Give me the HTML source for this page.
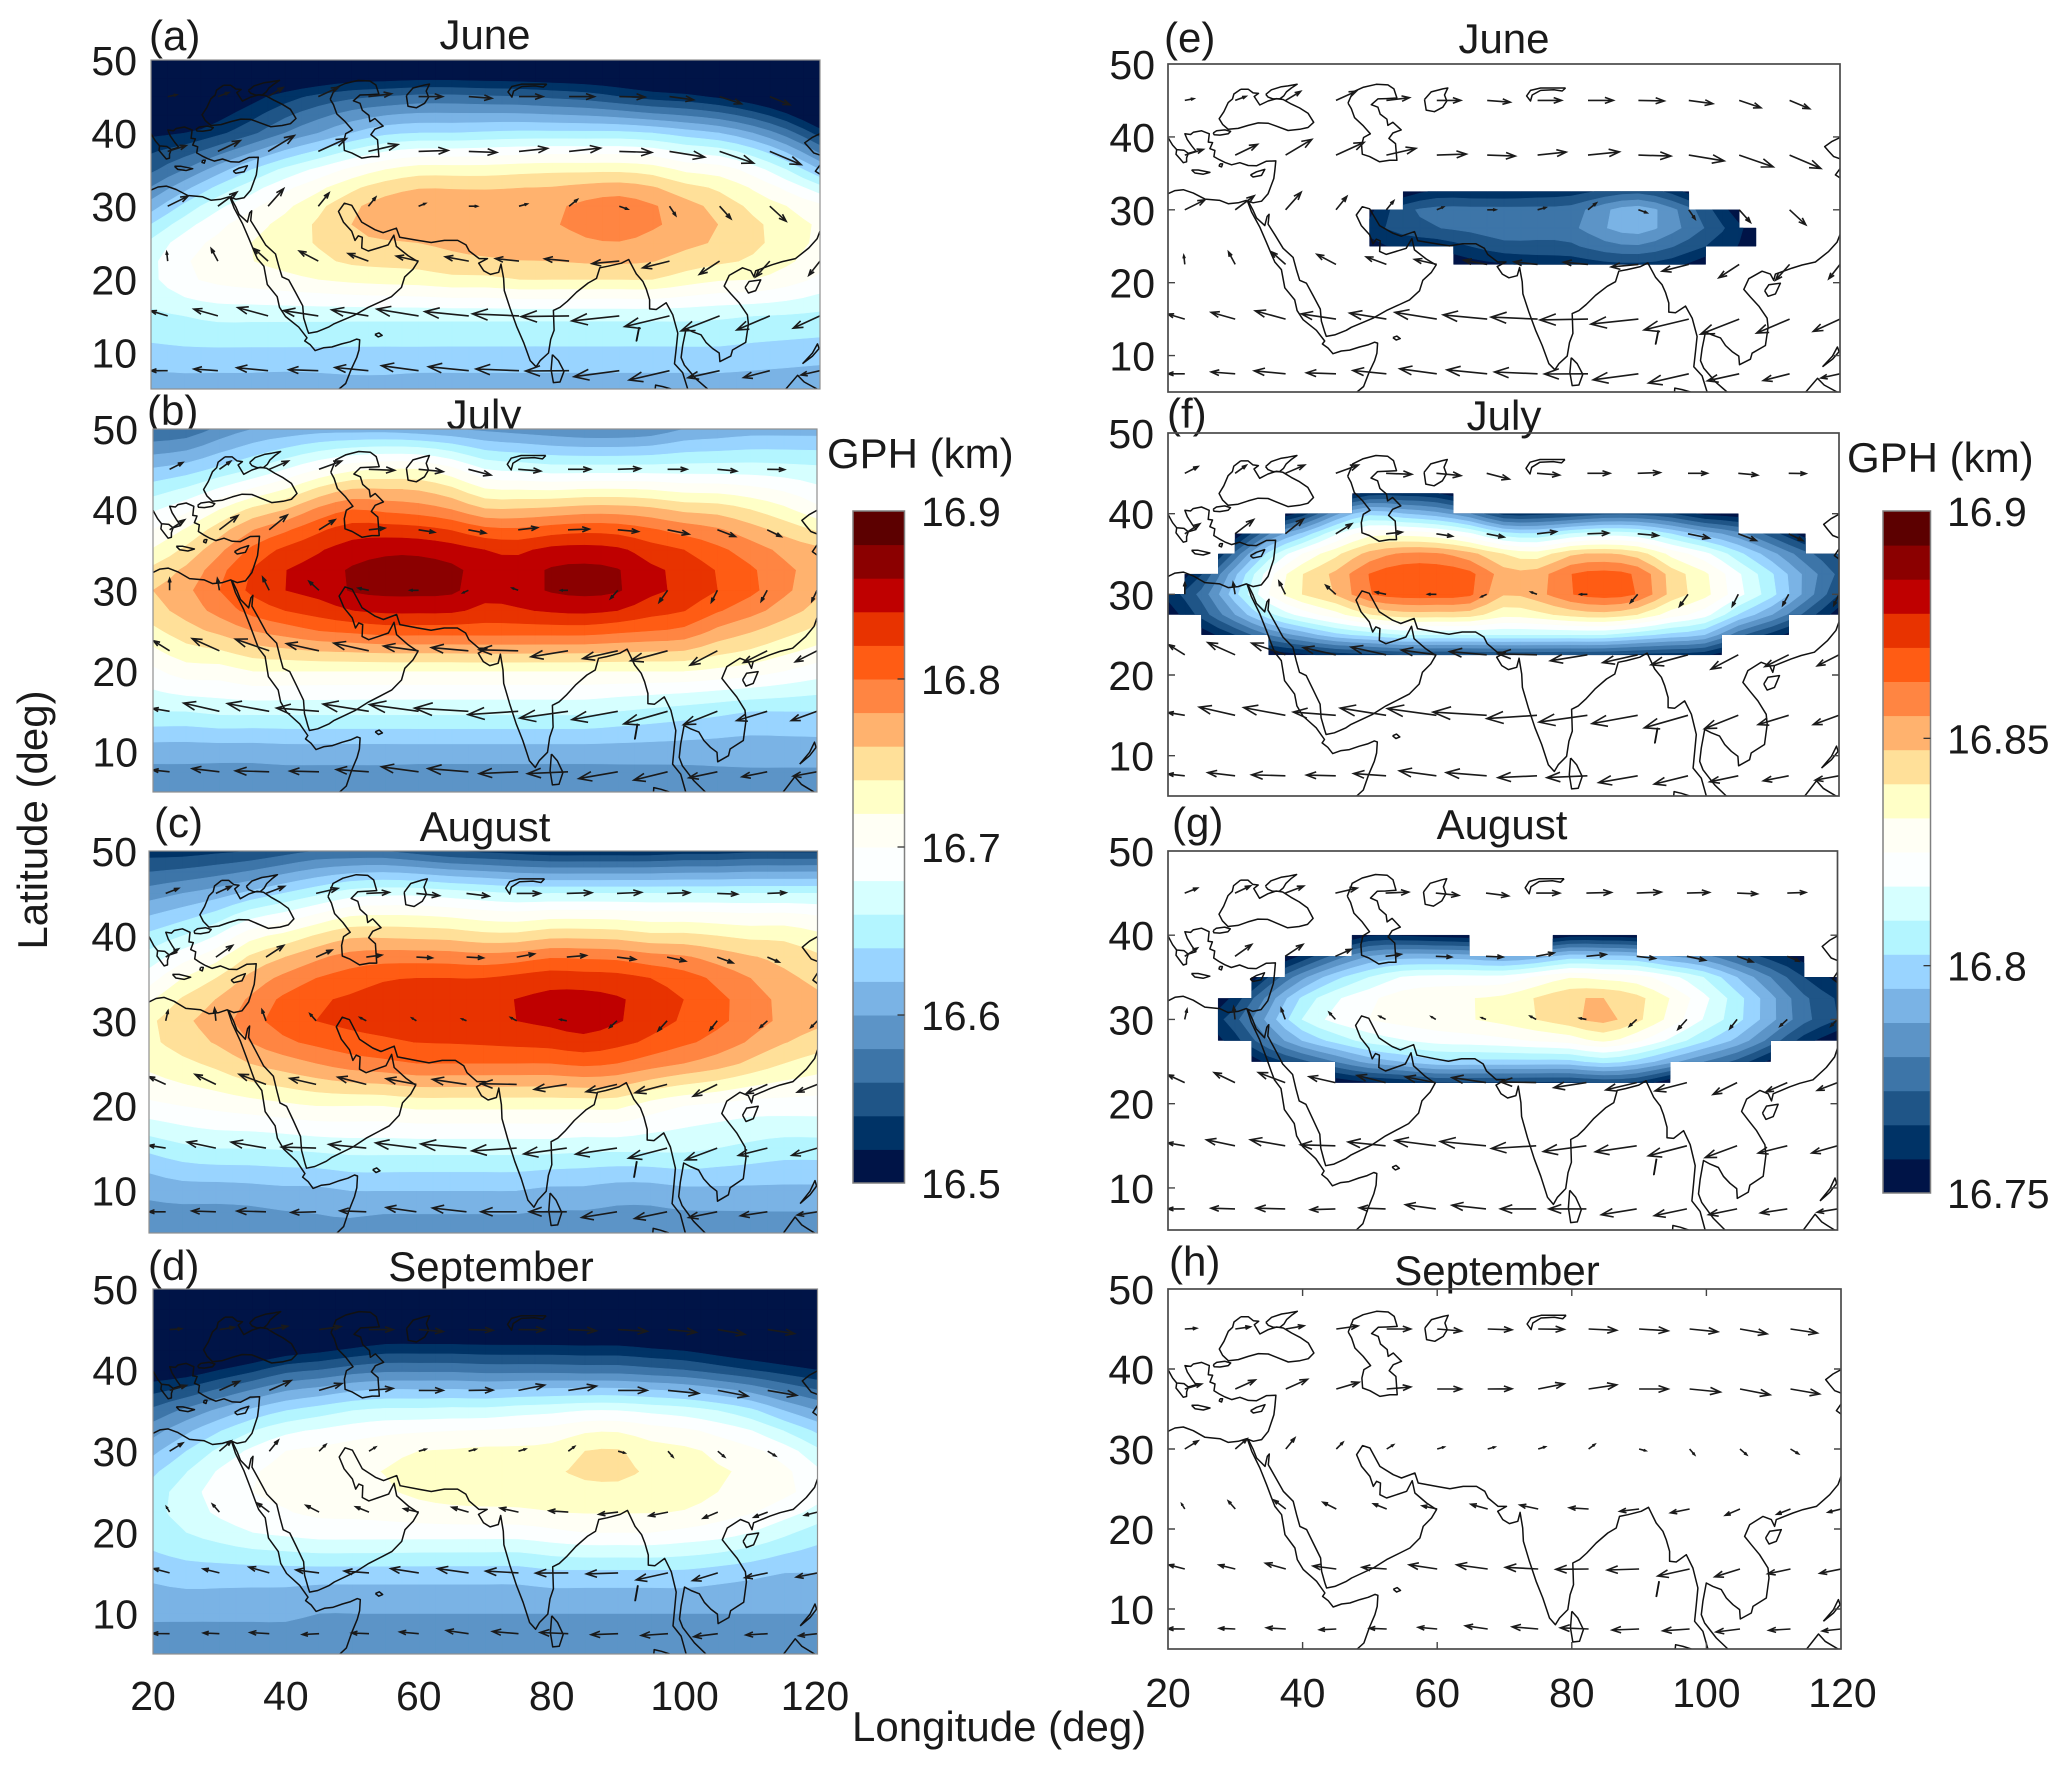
<!DOCTYPE html>
<html>
<head>
<meta charset="utf-8">
<title>GPH and wind panels</title>
<style>
html,body{margin:0;padding:0;background:#fff;}
svg{display:block;}
text{font-family:"Liberation Sans",Arial,sans-serif;fill:#1a1a1a;}
</style>
</head>
<body>
<svg id="fig" xmlns="http://www.w3.org/2000/svg" width="2067" height="1769" viewBox="0 0 2067 1769">
<rect x="0" y="0" width="2067" height="1769" fill="#fff"/>
<text x="149" y="50" font-size="42">(a)</text>
<text x="485" y="49" font-size="42" text-anchor="middle">June</text>
<text x="147" y="425" font-size="42">(b)</text>
<text x="484" y="429" font-size="42" text-anchor="middle">July</text>
<text x="154" y="837" font-size="42">(c)</text>
<text x="485" y="841" font-size="42" text-anchor="middle">August</text>
<text x="148" y="1280" font-size="42">(d)</text>
<text x="491" y="1281" font-size="42" text-anchor="middle">September</text>
<text x="1164" y="52" font-size="42">(e)</text>
<text x="1504" y="53" font-size="42" text-anchor="middle">June</text>
<text x="1167" y="428" font-size="42">(f)</text>
<text x="1504" y="430" font-size="42" text-anchor="middle">July</text>
<text x="1172" y="837" font-size="42">(g)</text>
<text x="1502" y="839" font-size="42" text-anchor="middle">August</text>
<text x="1169" y="1276" font-size="42">(h)</text>
<text x="1497" y="1285" font-size="42" text-anchor="middle">September</text>
<text x="827" y="468" font-size="42">GPH (km)</text>
<text x="1847" y="472" font-size="42">GPH (km)</text>
<text x="852" y="1741" font-size="42">Longitude (deg)</text>
<text x="47" y="820" font-size="42" text-anchor="middle" transform="rotate(-90 47 820)">Latitude (deg)</text>
<g id="root"></g>
</svg>
<script>
const lonGrid=[20,25,30,35,40,45,50,55,60,65,70,75,80,85,90,95,100,105,110,115,120];
const latGrid=[50,45,40,35,30,25,20,15,10,5];
const gphJune=[
[16.38,16.39,16.40,16.42,16.44,16.45,16.46,16.46,16.46,16.46,16.46,16.46,16.46,16.46,16.46,16.455,16.45,16.44,16.43,16.42,16.40],
[16.42,16.44,16.485,16.51,16.53,16.545,16.555,16.56,16.565,16.565,16.562,16.56,16.555,16.55,16.54,16.53,16.525,16.515,16.50,16.48,16.45],
[16.515,16.52,16.535,16.555,16.58,16.60,16.62,16.635,16.64,16.64,16.643,16.645,16.645,16.645,16.645,16.64,16.63,16.62,16.60,16.57,16.53],
[16.555,16.58,16.61,16.64,16.665,16.685,16.705,16.72,16.73,16.73,16.73,16.733,16.735,16.735,16.735,16.73,16.715,16.71,16.69,16.66,16.62],
[16.61,16.645,16.675,16.695,16.715,16.735,16.755,16.77,16.775,16.775,16.775,16.775,16.776,16.786,16.792,16.782,16.768,16.752,16.735,16.72,16.705],
[16.665,16.69,16.705,16.72,16.73,16.742,16.755,16.758,16.76,16.765,16.77,16.77,16.771,16.777,16.779,16.773,16.765,16.757,16.745,16.73,16.715],
[16.675,16.695,16.705,16.71,16.715,16.72,16.725,16.728,16.73,16.735,16.735,16.74,16.74,16.74,16.74,16.74,16.73,16.722,16.72,16.71,16.695],
[16.655,16.66,16.665,16.665,16.665,16.665,16.665,16.665,16.665,16.665,16.665,16.665,16.665,16.665,16.665,16.665,16.665,16.663,16.66,16.658,16.655],
[16.634,16.636,16.636,16.636,16.636,16.636,16.636,16.636,16.636,16.636,16.636,16.636,16.636,16.636,16.636,16.636,16.636,16.636,16.634,16.632,16.63],
[16.605,16.607,16.607,16.607,16.605,16.607,16.61,16.61,16.607,16.607,16.607,16.607,16.607,16.607,16.607,16.607,16.607,16.607,16.605,16.603,16.60]
];
const gphJuly=[
[16.56,16.565,16.585,16.60,16.605,16.61,16.61,16.61,16.605,16.60,16.595,16.59,16.585,16.58,16.58,16.585,16.60,16.605,16.61,16.61,16.61],
[16.622,16.63,16.645,16.66,16.68,16.70,16.715,16.72,16.72,16.705,16.68,16.675,16.67,16.67,16.67,16.67,16.67,16.67,16.67,16.668,16.665],
[16.677,16.695,16.72,16.745,16.76,16.785,16.80,16.795,16.79,16.78,16.762,16.762,16.765,16.77,16.77,16.765,16.755,16.752,16.74,16.725,16.705],
[16.722,16.745,16.775,16.805,16.825,16.838,16.85,16.856,16.856,16.85,16.84,16.836,16.846,16.848,16.844,16.83,16.82,16.805,16.79,16.775,16.765],
[16.76,16.775,16.80,16.825,16.84,16.848,16.862,16.866,16.866,16.864,16.848,16.852,16.862,16.866,16.862,16.845,16.835,16.82,16.805,16.785,16.765],
[16.735,16.752,16.765,16.78,16.79,16.80,16.805,16.81,16.81,16.81,16.81,16.81,16.81,16.81,16.805,16.80,16.795,16.775,16.762,16.748,16.735],
[16.695,16.71,16.71,16.72,16.72,16.72,16.72,16.72,16.72,16.72,16.72,16.72,16.72,16.72,16.72,16.72,16.72,16.715,16.71,16.70,16.69],
[16.66,16.66,16.665,16.665,16.665,16.665,16.665,16.665,16.665,16.665,16.665,16.665,16.665,16.665,16.66,16.655,16.65,16.645,16.64,16.64,16.64],
[16.608,16.608,16.608,16.608,16.61,16.61,16.61,16.61,16.61,16.61,16.61,16.61,16.61,16.61,16.61,16.61,16.61,16.61,16.61,16.61,16.61],
[16.585,16.585,16.583,16.583,16.583,16.583,16.583,16.583,16.58,16.58,16.58,16.58,16.58,16.58,16.58,16.58,16.58,16.583,16.585,16.585,16.585]
];
const gphAugust=[
[16.53,16.53,16.535,16.54,16.55,16.56,16.56,16.56,16.55,16.54,16.535,16.53,16.525,16.525,16.525,16.525,16.53,16.53,16.535,16.535,16.535],
[16.59,16.60,16.61,16.625,16.64,16.655,16.67,16.675,16.675,16.67,16.665,16.66,16.66,16.66,16.66,16.66,16.66,16.66,16.66,16.66,16.66],
[16.645,16.66,16.68,16.712,16.725,16.742,16.756,16.756,16.754,16.752,16.746,16.746,16.754,16.754,16.752,16.745,16.745,16.74,16.735,16.735,16.725],
[16.69,16.72,16.74,16.765,16.785,16.80,16.81,16.818,16.82,16.82,16.82,16.826,16.832,16.83,16.828,16.82,16.81,16.795,16.78,16.765,16.755],
[16.735,16.755,16.77,16.79,16.81,16.82,16.825,16.828,16.83,16.832,16.835,16.84,16.845,16.85,16.842,16.83,16.817,16.805,16.79,16.775,16.765],
[16.725,16.735,16.745,16.76,16.77,16.78,16.79,16.795,16.80,16.80,16.80,16.80,16.80,16.805,16.80,16.79,16.78,16.77,16.755,16.74,16.73],
[16.695,16.70,16.705,16.71,16.715,16.72,16.72,16.72,16.725,16.725,16.725,16.725,16.725,16.725,16.725,16.71,16.70,16.695,16.69,16.69,16.69],
[16.645,16.655,16.66,16.66,16.662,16.665,16.668,16.668,16.668,16.668,16.668,16.668,16.668,16.665,16.665,16.665,16.665,16.66,16.655,16.65,16.65],
[16.605,16.61,16.61,16.612,16.615,16.615,16.62,16.62,16.62,16.62,16.62,16.62,16.615,16.615,16.61,16.61,16.615,16.615,16.615,16.615,16.615],
[16.585,16.58,16.58,16.58,16.585,16.59,16.59,16.585,16.585,16.585,16.585,16.585,16.585,16.585,16.585,16.585,16.585,16.585,16.585,16.585,16.585]
];
const gphSeptember=[
[16.36,16.37,16.38,16.39,16.40,16.41,16.42,16.42,16.42,16.42,16.42,16.42,16.42,16.42,16.42,16.42,16.41,16.40,16.39,16.38,16.37],
[16.42,16.43,16.44,16.45,16.46,16.47,16.48,16.49,16.49,16.49,16.49,16.49,16.49,16.49,16.49,16.485,16.48,16.47,16.46,16.45,16.44],
[16.50,16.505,16.52,16.535,16.553,16.56,16.57,16.575,16.575,16.575,16.572,16.572,16.572,16.57,16.57,16.565,16.56,16.55,16.54,16.53,16.52],
[16.565,16.585,16.605,16.625,16.64,16.65,16.66,16.665,16.665,16.667,16.667,16.672,16.675,16.68,16.68,16.675,16.67,16.66,16.645,16.62,16.60],
[16.615,16.64,16.665,16.685,16.70,16.705,16.71,16.715,16.72,16.722,16.725,16.725,16.728,16.74,16.742,16.73,16.725,16.715,16.705,16.69,16.665],
[16.65,16.67,16.69,16.70,16.705,16.71,16.712,16.717,16.725,16.73,16.732,16.733,16.735,16.735,16.735,16.733,16.733,16.72,16.715,16.705,16.69],
[16.65,16.66,16.67,16.68,16.685,16.69,16.69,16.69,16.69,16.69,16.69,16.69,16.695,16.70,16.70,16.70,16.695,16.69,16.68,16.665,16.65],
[16.625,16.63,16.63,16.63,16.63,16.63,16.63,16.63,16.63,16.63,16.63,16.63,16.635,16.635,16.635,16.635,16.635,16.63,16.625,16.62,16.62],
[16.605,16.605,16.605,16.605,16.605,16.60,16.60,16.60,16.60,16.60,16.60,16.60,16.60,16.60,16.60,16.60,16.60,16.60,16.60,16.60,16.60],
[16.58,16.58,16.58,16.58,16.58,16.58,16.585,16.585,16.585,16.585,16.585,16.585,16.585,16.585,16.585,16.585,16.585,16.585,16.585,16.59,16.59]
];
const windLons=[22.5,30,37.5,45,52.5,60,67.5,75,82.5,90,97.5,105,112.5,120];
const windLats=[45,37.5,30,22.5,15,7.5];
const uJune=[
[3.6,4.3,6,8.1,9.2,9.6,9.2,9.6,10.1,10.3,9.6,8.7,8,8],
[7.4,8.9,10.5,11.2,11.8,11.8,11.2,11.4,12.5,13,14.1,13.6,12.5,12],
[8.1,7.6,6.2,4.3,2.9,2.7,3.4,3.3,3.3,3.4,2.5,4.5,6.5,7],
[-0.4,-2.7,-5.6,-7.6,-8.1,-8.9,-9.4,-9.4,-9.8,-10.9,-10.7,-8.1,-5.6,-4.5],
[-6.7,-9.6,-12.1,-13.9,-14.7,-16.7,-17.6,-18.6,-19.2,-19,-17.9,-15.4,-13.2,-10.7],
[-6.7,-9.6,-12.5,-11.8,-13.4,-14.8,-16.1,-17.2,-17.4,-18.1,-16.1,-12.7,-10.5,-7.6]
];
const vJune=[
[0.7,1.6,3.6,3.7,1.1,0,-0.7,0,0,-0.2,-1.3,-2.9,-3.3,-3],
[2.3,4.3,6.3,5.1,2.7,0.4,-0.4,1.2,1.3,-0.4,-2.3,-4.7,-5.3,-5],
[4,5.6,7,5.3,3.6,1.1,0,0.9,2.7,-1.2,-3.7,-5,-6,-6],
[3.6,5,5,4,3,2,1.7,1,0.9,-1,-2.7,-5.3,-6.3,-5.7],
[2,2.7,3.3,2.1,2.4,2.7,1.7,0.8,-0.3,-2,-4.3,-6,-5.6,-4.9],
[0,0.7,1.2,0.4,1.3,2,1.6,0.7,-0.1,-2.4,-3.7,-2.8,-2.7,-1.7]
];
const uJuly=[
[5.3,4.5,7.7,9,10.3,9.8,9,9,9,9,7.7,7.7,6.9,6],
[6,7.4,7.2,6.4,6.4,6.4,6.9,7.7,8.5,8.2,8.5,7.2,5.6,4],
[0,-0.8,-2.6,-4,-4.2,-3.4,-2.2,-2.4,-2.9,-2.9,-3.4,-2.4,-2.4,-2.1],
[-6.4,-10.9,-13.5,-13,-14,-14,-14.8,-15.6,-14.8,-14,-14.8,-10.9,-9.5,-8.7],
[-6.6,-14.3,-16.7,-17,-18.3,-19.6,-21.5,-20.1,-19.3,-18.3,-17.5,-13.5,-12.2,-10.3],
[-6.6,-10.9,-13.5,-11.7,-13,-14.8,-16.2,-15.6,-16.2,-15.6,-13.5,-11.4,-10.1,-9.5]
];
const vJuly=[
[2.7,3.2,3.3,3.3,-0.4,-0.9,-2.3,-0.7,0,0.3,0,-0.7,-0.1,0],
[4,5.7,5.9,4,0.7,-1,-1.3,0.9,0.3,-0.7,-1.7,-2.7,-2.7,-3],
[4.7,4.7,5.2,3.6,0.9,0,-1,0.9,0,-3.3,-4.8,-4.7,-4.4,-4.4],
[4,4.9,4.7,2.9,3.1,1.9,1.3,0.4,-2.4,-3.1,-4,-5.7,-4.7,-4.4],
[1.1,3.3,3.1,1.3,2.9,2.7,1.3,-1.3,-2.7,-3.3,-5,-5.3,-3.7,-3.7],
[0.7,1.3,0.4,0.3,0.9,2,1.3,-0.7,-0.7,-2.7,-3.3,-2.4,-2,-1.7]
];
const uAugust=[
[5.1,6.2,7.4,8.7,9.2,9.2,9,9.4,10,9.8,9,8.1,7.4,7],
[5.1,6.7,7.1,6.3,6.2,6.3,6.7,7.1,7.8,7.4,7.4,6.3,4.7,3],
[0.9,-0.5,-1.6,-2.5,-2.5,-1.8,-1.8,-2.4,-2.7,-2.9,-3.6,-2.9,-2.9,-2.7],
[-6.7,-8.3,-10.7,-10.5,-11.4,-12.1,-13.6,-14.3,-13,-12.3,-12.7,-9.6,-8.5,-8.1],
[-6.7,-11.4,-13.9,-13.9,-15,-16.3,-18.3,-17.9,-17.2,-16.5,-15.4,-12.7,-11.6,-10.3],
[-6.7,-9.6,-11.6,-10,-10.5,-12.1,-13.6,-14.3,-15,-14.1,-13,-11.4,-10.7,-8.1]
];
const vAugust=[
[2,2.9,2.8,2,0.4,-0.9,-1.1,0,0.3,0.4,0.3,-0.3,0.3,0],
[3.3,4.7,4.7,2.8,0.8,-0.3,-0.3,1.3,0.7,-0.9,-1.6,-2.3,-2,-2],
[4,5,4.4,2.8,1.3,1.1,0.7,1.3,0.5,-2.7,-4,-3.7,-2.7,-2.7],
[3.1,4,4,2.4,2.9,2.3,2,0.3,-2,-2.9,-3.3,-4.7,-3.7,-3.1],
[1.1,2.4,2.4,0.4,1.5,2.1,1.7,-1.1,-2.3,-2.4,-4,-4.7,-2.9,-2.9],
[0,0.3,0.3,-0.3,0.4,1.7,1.5,0,0,-2.3,-2.7,-2.3,-1.6,-1.3]
];
const uSeptember=[
[4.7,6,7.3,8.7,9.6,9.7,9.7,10.4,11.2,11.6,11.3,10.8,10.7,9],
[6.7,8,8.7,9.1,9.6,9.7,9.7,10.4,11.2,11.6,12.3,12,11.6,10],
[5.3,4.7,3.6,2.7,2.7,2.8,2.9,2.9,2.5,2.7,2,2.7,3.2,3],
[-1.3,-2.8,-4.7,-5.3,-5.3,-6,-6.7,-7.3,-7.7,-7.7,-7.6,-5.9,-5.5,-5.2],
[-6.4,-6.5,-8.1,-9.3,-9.9,-11.2,-12.4,-13.1,-13.1,-12.7,-12.7,-10.1,-9.1,-8.5],
[-6.7,-6.4,-7.7,-6.7,-6.9,-7.6,-8.9,-10.4,-11.3,-10.8,-10.7,-9.6,-8.7,-7.5]
];
const vSeptember=[
[0.3,0.9,1.3,1.2,0,-0.8,-0.3,-0.1,-0.5,-0.7,-1.1,-1.9,-1.6,-1],
[2,3.6,3.9,2.7,0.8,0,0.1,2.1,1.7,0,-1.2,-2.3,-2,-2],
[3.3,4.1,4.4,2.7,1.7,0.8,0.8,0.9,1.9,-0.7,-2.3,-2.3,-1.9,-1.5],
[2.1,3.2,3.6,2.7,2.1,1.3,1.9,1.6,0.5,-0.9,-1.5,-2.5,-2.1,-1.3],
[1.7,1.6,2.3,1.2,0.7,1.7,1.7,0.7,-0.1,-0.4,-2.8,-3.1,-1.9,-1.7],
[0.1,0.3,0.5,-0.3,0.3,0.7,1.3,0.9,0.5,-0.4,-0.7,-1.2,-0.5,-0.8]
];
const yTickValues=[50,40,30,20,10];
const xTickValues=[20,40,60,80,100,120];
const cbarTicksLeft=[16.5,16.6,16.7,16.8,16.9];
const cbarTickLabelsLeft=["16.5","16.6","16.7","16.8","16.9"];
const cbarTicksRight=[16.75,16.8,16.85,16.9];
const cbarTickLabelsRight=["16.75","16.8","16.85","16.9"];
const bandColors=["#001447","#003366","#1f5587","#3d75a8","#5c94c7","#7ab3e5","#99d4ff","#b3f5ff","#d6ffff","#fcffff","#fffff5","#ffffc7","#ffe099","#ffb26e","#ff8542","#ff5c14","#e83300","#bf0000","#8b0000","#5c0000"];
const coastSegments=[
[[30.84,46.54],[31.93,46.54],[32.67,46.04],[33.47,45.96],[32.82,45.54],[33.66,44.38],[34.9,44.92],[36.14,45.25],[37.13,45.13],[38.37,44.5],[39.6,43.96],[40.84,43.25],[41.68,42],[40.84,41.29],[39.6,41.04],[37.87,40.88],[36.14,41.46],[34.9,41.88],[33.42,41.92],[31.93,41.58],[30.45,41.17],[28.96,41.04],[28.12,41.71],[27.62,42.5],[28.32,43.46],[28.96,44.71],[29.6,45.21],[29.8,45.88],[30.84,46.54]],
[[34.55,45.83],[35.39,46.46],[36.88,46.88],[37.87,47],[39.21,47.21],[38.37,46.71],[37.62,46.17],[37.23,45.63],[36.63,45.21],[35.64,45.21],[34.9,45.46],[34.55,45.83]],
[[26.73,40.54],[27.23,40.83],[28.47,40.96],[29.31,40.75],[28.96,40.42],[27.72,40.25],[26.87,40.29],[26.73,40.54]],
[[20,39.92],[20.69,38.88],[21.29,38.25],[22.38,38.17],[23.02,37.75],[24.16,38.04],[23.51,38.79],[22.87,39.63],[22.52,40.42],[23.37,40.33],[23.76,40.63],[25,40.83],[26.14,40.42],[25.99,39.29],[26.63,39.21],[26.24,38.38],[26.98,38.13],[26.83,37.29],[27.62,36.88],[28.47,36.5],[29.46,36.17],[30.69,36.46],[31.93,36.08],[33.17,36.04],[34.65,36.67],[36.04,36.71],[35.89,35.33],[35.74,34.29],[34.9,32.21],[33.91,31.17],[32.67,30.96],[31.68,31.29],[30.45,30.96],[28.96,30.83],[27.72,31.29],[25.5,31.46],[23.76,32.29],[22.28,32.75],[21.04,32.63],[20,32.21]],
[[21.29,38.25],[21.19,37.63],[21.78,37],[22.28,36.46],[22.77,36.58],[22.77,37.13],[23.02,37.75]],
[[23.51,35.46],[24.5,35.46],[26.24,35.13],[25.25,34.88],[24.01,35.04],[23.51,35.46]],
[[32.28,34.79],[33.17,35.21],[34.41,35.54],[33.91,34.71],[32.67,34.5],[32.28,34.79]],
[[27.72,36.29],[28.12,36.29],[27.97,35.88],[27.62,36],[27.72,36.29]],
[[46.78,44.63],[47.52,46.17],[49.01,46.79],[50.99,47.21],[52.72,47.13],[53.61,46.58],[54.06,45.33],[52.48,45.25],[51.24,45.21],[50.25,44.42],[51.24,44.08],[51.58,43.13],[52.57,42.42],[52.72,41.58],[53.47,42],[54.7,40.96],[53.47,40.54],[52.87,39.79],[53.86,39.08],[54.06,36.79],[52.97,36.79],[51.49,36.58],[50,37.29],[48.91,37.63],[48.81,38.88],[49.11,39.92],[50.1,40.42],[49.01,41.58],[47.77,42.63],[47.28,43.88],[46.78,44.63]],
[[58.17,45.13],[59.16,46.17],[60.89,46.58],[61.63,46.71],[61.14,45.75],[61.49,44.92],[60.89,44.08],[59.65,43.46],[58.42,43.67],[58.17,45.13]],
[[79.16,46.71],[77.42,46.71],[75.44,46.71],[73.95,46.38],[73.36,45.63],[73.95,44.92],[74.2,45.75],[75.44,46.38],[77.42,46.46],[78.66,46.29],[79.16,46.71]],
[[31.78,31.29],[32.43,29.71],[33.66,27.63],[34.65,25.54],[35.4,23.88],[35.89,22.83],[36.88,21.79],[37.38,19.29],[38.86,17.63],[39.21,16.17],[40.1,14.92],[42.08,13.46],[43.32,12],[42.97,11.58],[43.81,11.04],[44.55,10.25],[45.79,10.63],[47.03,10.75],[48.51,11.17],[49.75,11.46],[50.74,11.83],[51.19,11.71],[51.09,10.33],[50.74,9.29],[49.9,7.63],[49.11,5.75],[48.12,5]],
[[31.93,31.17],[32.67,29.92],[33.17,28.88],[34.41,27.83],[34.75,29.08],[35.05,29.38],[34.9,28.04],[35.89,26.58],[37.13,24.71],[38.61,23.46],[39.11,21.79],[39.6,20.33],[40.59,19.92],[41.58,18.25],[42.67,16.38],[42.82,14.71],[43.32,13.25],[43.56,12.63],[44.8,12.83],[46.53,13.46],[47.28,13.88],[50.5,15.13],[52.48,16.17],[54.46,17],[55.94,17.63],[57.43,18.88],[57.92,20.33],[59.16,21.38],[59.9,22.42],[58.42,23.25],[56.68,24.5],[56.29,26.04],[55.45,24.71],[53.96,24.29],[52.48,23.88],[51.49,24.29],[51.58,25.75],[50.99,25.96],[50.5,25.33],[50,26.58],[48.76,27.83],[48.02,29.29],[48.91,30.42],[50,30.13],[51.49,27.83],[53.47,26.79],[54.7,26.38],[56.68,27],[57.18,25.75],[59.9,25.33],[61.88,25.04],[63.86,25.33],[65.84,25.33],[67.08,24.71],[67.57,23.88],[69.06,22.83],[70.3,22.83],[68.99,22.21],[69.74,21.17],[70.73,20.67],[71.97,20.96],[72.32,22.08],[72.71,20.13],[72.81,18.46],[73.7,15.96],[74.7,13.46],[75.69,11.38],[76.68,8.88],[77.57,8.04],[78.17,8.88],[79.41,9.92],[79.75,11.79],[80.25,13.04],[80.15,15.75],[81.14,16.17],[82.23,17],[83.62,18.25],[85.35,19.5],[86.59,20.13],[87.09,21.58],[88.33,21.79],[90.31,22.21],[91.4,22.71],[92.54,20.75],[93.53,19.71],[94.03,18.67],[94.53,17.21],[94.53,15.96],[95.52,15.88],[97.01,16.79],[98,15.13],[98.74,12.63],[98.5,10.54],[98.25,8.46],[99.48,7.21],[100.23,5]],
[[103.2,5],[101.47,6.38],[99.73,8.25],[99.24,9.29],[99.48,10.96],[99.98,13.25],[100.97,12.83],[102.21,12.42],[102.96,11.38],[103.95,10.54],[104.94,9.92],[105.04,8.75],[106.67,9.5],[106.92,10.33],[108.9,11.38],[109.3,13.88],[109.15,15.13],[107.91,16.79],[106.67,18.04],[105.68,19.08],[106.43,20.54],[108.41,21.58],[109.65,21.17],[110.14,20.33],[110.39,21.17],[112.87,22],[114.36,22.42],[116.34,22.83],[118.32,24.29],[119.56,25.54],[120,26.58]],
[[108.8,18.88],[109.4,19.71],[111.13,19.92],[110.39,18.46],[109.3,18.13],[108.8,18.88]],
[[80,9.71],[80.89,8.88],[81.73,7.42],[81.14,5.96],[80.15,5.88],[79.8,7.63],[80,9.71]],
[[95.37,5],[95.42,5.54],[96.52,5.33],[97.75,5]],
[[114.91,5],[116.65,6.88],[117.64,5.96],[118.63,5.46],[119.57,5]],
[[117.39,8.46],[118.88,9.92],[119.62,11.17],[119.87,10.54],[118.88,9.5],[117.39,8.46]],
[[120,39.92],[118.81,39.38],[117.72,38.67],[118.32,38.04],[119.06,37.29],[120,37]],
[[120,35.63],[119.31,34.79],[120,34.38]],
[[53.47,12.46],[54.06,12.67],[54.55,12.33],[53.96,12.13],[53.47,12.46]],
[[92.94,13.46],[92.54,11.58],[92.6,11.6],[93,13.46]]
];

const NS='http://www.w3.org/2000/svg';
const root=document.getElementById('root');
function mk(tag,attrs,parent){
  const el=document.createElementNS(NS,tag);
  for(const k in attrs){el.setAttribute(k,attrs[k]);}
  (parent||root).appendChild(el);
  return el;
}
function refine(a){
  const n=a.length,out=[];
  for(let i=0;i<n-1;i++){
    const p1=a[i],p2=a[i+1];
    const p0=i>0?a[i-1]:2*p1-p2;
    const p3=i<n-2?a[i+2]:2*p2-p1;
    out.push(p1);
    out.push((-p0+9*p1+9*p2-p3)/16);
  }
  out.push(a[n-1]);
  return out;
}
function upsample(field){
  const byRow=field.map(refine);
  const nc=byRow[0].length;
  const cols=[];
  for(let c=0;c<nc;c++){cols.push(refine(byRow.map(r=>r[c])));}
  const nr=cols[0].length,res=[];
  for(let r=0;r<nr;r++){const row=[];for(let c=0;c<nc;c++){row.push(cols[c][r]);}res.push(row);}
  return res;
}
function clipAbove(poly,level){
  const out=[];
  for(let i=0;i<poly.length;i++){
    const a=poly[i],b=poly[(i+1)%poly.length];
    const ia=a[2]>=level,ib=b[2]>=level;
    if(ia){out.push(a);}
    if(ia!==ib){
      const t=(level-a[2])/(b[2]-a[2]);
      out.push([a[0]+t*(b[0]-a[0]),a[1]+t*(b[1]-a[1]),level]);
    }
  }
  return out;
}
function drawPanel(p){
  const sx=lon=>p.l+(lon-20)/100*(p.r-p.l);
  const sy=lat=>p.t+(50-lat)/45*(p.b-p.t);
  const g=mk('g',{});
  
  
  const cp=mk('clipPath',{id:'clip-'+p.id},g);
  mk('rect',{x:p.l,y:p.t,width:p.r-p.l,height:p.b-p.t},cp);
  const fine=upsample(p.gph);
  const nr=fine.length,nc=fine[0].length;
  const step=(p.vmax-p.vmin)/bandColors.length;
  const field=mk('g',{'clip-path':'url(#clip-'+p.id+')'},g);
  
  
  for(let k=0;k<bandColors.length;k++){
    const level=p.vmin+k*step;
    let d='';
    for(let r=0;r<nr-1;r++){
      for(let c=0;c<nc-1;c++){
        const v=[fine[r][c],fine[r][c+1],fine[r+1][c+1],fine[r+1][c]];
        if(p.masked&&Math.min(v[0],v[1],v[2],v[3])<p.vmin){continue;}
        const lonA=20+c*2.5,lonB=lonA+2.5,latA=50-r*2.5,latB=latA-2.5;
        let poly=[[sx(lonA),sy(latA),v[0]],[sx(lonB),sy(latA),v[1]],[sx(lonB),sy(latB),v[2]],[sx(lonA),sy(latB),v[3]]];
        if(k>0){poly=clipAbove(poly,level);}
        if(poly.length<3){continue;}
        d+='M'+poly.map(q=>q[0].toFixed(1)+' '+q[1].toFixed(1)).join('L')+'Z';
      }
    }
    if(d){
      const band=mk('path',{d:d,fill:bandColors[k],stroke:bandColors[k],'stroke-width':0.5},field);
      
      
    }
  }
  const coastG=mk('g',{'clip-path':'url(#clip-'+p.id+')',fill:'none',stroke:'#111','stroke-width':1.5,'stroke-linejoin':'round'},g);
  
  
  coastSegments.forEach(seg=>{
    const line=mk('path',{d:'M'+seg.map(q=>sx(q[0]).toFixed(1)+' '+sy(q[1]).toFixed(1)).join('L')},coastG);
    
    
  });
  const windG=mk('g',{'clip-path':'url(#clip-'+p.id+')',fill:'none',stroke:'#1a1a1a','stroke-width':1.6},g);
  
  
  const windScale=2.5;
  windLats.forEach((lat,r)=>{
    windLons.forEach((lon,c)=>{
      const x0=sx(lon),y0=sy(lat);
      const dx=p.u[r][c]*windScale,dy=-p.v[r][c]*windScale;
      const x1=x0+dx,y1=y0+dy;
      const al=0.33,be=0.36;
      const hx1=x1-al*(dx+be*dy),hy1=y1-al*(dy-be*dx);
      const hx2=x1-al*(dx-be*dy),hy2=y1-al*(dy+be*dx);
      const arrow=mk('path',{d:'M'+x0.toFixed(1)+' '+y0.toFixed(1)+'L'+x1.toFixed(1)+' '+y1.toFixed(1)+'M'+hx1.toFixed(1)+' '+hy1.toFixed(1)+'L'+x1.toFixed(1)+' '+y1.toFixed(1)+'L'+hx2.toFixed(1)+' '+hy2.toFixed(1)},windG);
      
      
    });
  });
  if(p.masked){
    yTickValues.forEach(v=>{
      if(v===50){return;}
      const tl=mk('path',{d:'M'+p.l+' '+sy(v)+'h7M'+p.r+' '+sy(v)+'h-7',stroke:'#444','stroke-width':1.4,fill:'none'},g);
      
      
    });
    if(p.id==='h'){
      xTickValues.forEach(v=>{
        if(v===20||v===120){return;}
        const tx=mk('path',{d:'M'+sx(v)+' '+p.t+'v7M'+sx(v)+' '+p.b+'v-7',stroke:'#444','stroke-width':1.4,fill:'none'},g);
        
        
      });
    }
  }
  const frame=mk('rect',{x:p.l,y:p.t,width:p.r-p.l,height:p.b-p.t,fill:'none',stroke:p.masked?'#4a4a4a':'#8f8f8f','stroke-width':p.masked?1.7:1.2},g);
  
  
  yTickValues.forEach(v=>{
    const t=mk('text',{x:p.labelRight,y:sy(v)+15,'font-size':41,'text-anchor':'end'},g);
    t.textContent=String(v);
    
    
  });
  if(p.xLabelY){
    xTickValues.forEach(v=>{
      const t=mk('text',{x:sx(v)+(v===120?(p.masked?1.5:-2.5):0),y:p.xLabelY,'font-size':41,'text-anchor':'middle'},g);
      t.textContent=String(v);
      
      
    });
  }
}
function drawColorbar(c){
  const g=mk('g',{});
  
  
  const sy=v=>c.b-(v-c.vmin)/(c.vmax-c.vmin)*(c.b-c.t);
  const step=(c.vmax-c.vmin)/bandColors.length;
  bandColors.forEach((col,k)=>{
    const top=sy(c.vmin+(k+1)*step),bot=sy(c.vmin+k*step);
    const cell=mk('rect',{x:c.l,y:top,width:c.r-c.l,height:bot-top+0.5,fill:col},g);
    
    
  });
  const fr=mk('rect',{x:c.l,y:c.t,width:c.r-c.l,height:c.b-c.t,fill:'none',stroke:'#808080','stroke-width':1.5},g);
  
  
  c.ticks.forEach((v,i)=>{
    const y=sy(v);
    if(i>0&&i<c.ticks.length-1){
      const m=mk('path',{d:'M'+c.r+' '+y+'h-7',stroke:'#333','stroke-width':1.3,fill:'none'},g);
      
      
    }
    const t=mk('text',{x:c.labelX,y:y+15,'font-size':41},g);
    t.textContent=c.labels[i];
    
    
  });
}
const leftMin=16.5,rightMin=16.75,commonMax=16.9;
[
 {id:'a',month:'june',l:151,r:820,t:60,b:389,gph:gphJune,u:uJune,v:vJune,vmin:leftMin,vmax:commonMax,masked:false,labelRight:137},
 {id:'b',month:'july',l:153,r:817,t:429,b:792,gph:gphJuly,u:uJuly,v:vJuly,vmin:leftMin,vmax:commonMax,masked:false,labelRight:138},
 {id:'c',month:'august',l:149,r:817.5,t:851,b:1233,gph:gphAugust,u:uAugust,v:vAugust,vmin:leftMin,vmax:commonMax,masked:false,labelRight:137},
 {id:'d',month:'september',l:153,r:817.5,t:1289,b:1654,gph:gphSeptember,u:uSeptember,v:vSeptember,vmin:leftMin,vmax:commonMax,masked:false,labelRight:138,xLabelY:1710},
 {id:'e',month:'june',l:1168,r:1840,t:64,b:392,gph:gphJune,u:uJune,v:vJune,vmin:rightMin,vmax:commonMax,masked:true,labelRight:1155},
 {id:'f',month:'july',l:1168,r:1839,t:433,b:796,gph:gphJuly,u:uJuly,v:vJuly,vmin:rightMin,vmax:commonMax,masked:true,labelRight:1154},
 {id:'g',month:'august',l:1168,r:1837.5,t:851,b:1230,gph:gphAugust,u:uAugust,v:vAugust,vmin:rightMin,vmax:commonMax,masked:true,labelRight:1154},
 {id:'h',month:'september',l:1168,r:1841,t:1289,b:1649,gph:gphSeptember,u:uSeptember,v:vSeptember,vmin:rightMin,vmax:commonMax,masked:true,labelRight:1154,xLabelY:1707}
].forEach(drawPanel);
drawColorbar({id:'left',l:853,r:904.5,t:511,b:1183,vmin:leftMin,vmax:commonMax,ticks:cbarTicksLeft,labels:cbarTickLabelsLeft,labelX:921});
drawColorbar({id:'right',l:1883,r:1930.5,t:511,b:1193,vmin:rightMin,vmax:commonMax,ticks:cbarTicksRight,labels:cbarTickLabelsRight,labelX:1947});
</script>
</body>
</html>
